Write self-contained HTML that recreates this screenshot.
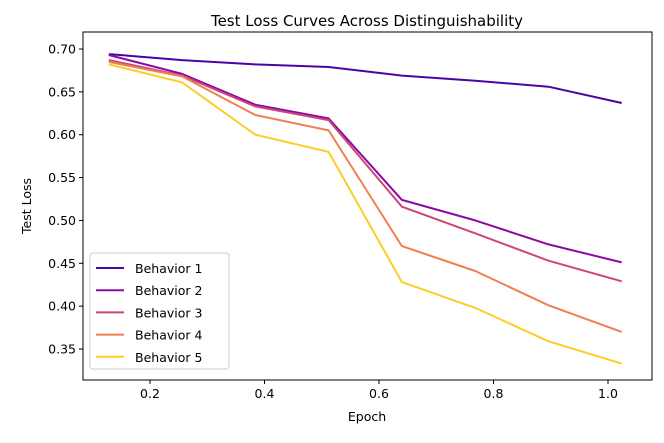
<!DOCTYPE html>
<html><head><meta charset="utf-8"><style>
body{margin:0;background:#fff;}
svg{display:block;font-family:"DejaVu Sans","Liberation Sans",sans-serif;}
</style></head><body>
<svg id="chart" width="664" height="443" viewBox="0 0 664 443">
<text x="367" y="26" font-size="15" text-anchor="middle" fill="#000">Test Loss Curves Across Distinguishability</text>
<g id="axes"></g>
<g id="lines"></g>
<g id="legend"></g>
<text x="367" y="421" font-size="12.5" text-anchor="middle">Epoch</text>
<text x="0" y="0" font-size="12.5" text-anchor="middle" transform="translate(31,206) rotate(-90)">Test Loss</text>
</svg>
<script>
const epochs=[0.128,0.256,0.384,0.512,0.64,0.768,0.896,1.024];
const seriesNames=["Behavior 1","Behavior 2","Behavior 3","Behavior 4","Behavior 5"];
const b1=[0.694,0.687,0.682,0.679,0.669,0.663,0.656,0.637];
const b2=[0.693,0.671,0.635,0.619,0.524,0.500,0.472,0.451];
const b3=[0.687,0.669,0.633,0.617,0.516,0.485,0.453,0.429];
const b4=[0.685,0.668,0.623,0.605,0.470,0.441,0.401,0.370];
const b5=[0.682,0.661,0.600,0.580,0.428,0.398,0.359,0.333];
const xTicks=[0.2,0.4,0.6,0.8,1.0];
const xTickLabels=["0.2","0.4","0.6","0.8","1.0"];
const yTicks=[0.35,0.40,0.45,0.50,0.55,0.60,0.65,0.70];
const yTickLabels=["0.35","0.40","0.45","0.50","0.55","0.60","0.65","0.70"];
const colors=["#4b03a1","#8b0aa5","#cc4778","#f07f4f","#fccd25"];
const series=[b1,b2,b3,b4,b5];
const L=83,R=652,T=32,B=380;
const xs=v=>150+(v-0.2)*(608-150)/0.8;
const ys=v=>49+(0.70-v)*(349-49)/0.35;
const NS="http://www.w3.org/2000/svg";
function mk(tag,attrs,parent){const e=document.createElementNS(NS,tag);for(const k in attrs)e.setAttribute(k,attrs[k]);parent.appendChild(e);return e;}
const axes=document.getElementById('axes');
const frame=mk('rect',{x:L,y:T,width:R-L,height:B-T,fill:'none',stroke:'#000','stroke-width':1},axes);


xTicks.forEach((t,i)=>{const x=xs(t);
const tk=mk('line',{x1:x,x2:x,y1:B,y2:B+4,stroke:'#000'},axes);


const tx=mk('text',{x:x,y:B+18,'font-size':12.5,'text-anchor':'middle'},axes);tx.textContent=xTickLabels[i];

});
yTicks.forEach((t,i)=>{const y=ys(t);
const tk=mk('line',{x1:L-4,x2:L,y1:y,y2:y,stroke:'#000'},axes);


const tx=mk('text',{x:L-7,y:y+4.5,'font-size':12.5,'text-anchor':'end'},axes);tx.textContent=yTickLabels[i];

});
const lines=document.getElementById('lines');
series.forEach((s,i)=>{const d=s.map((v,j)=>(j?'L':'M')+xs(epochs[j]).toFixed(1)+','+ys(v).toFixed(1)).join(' ');
const p=mk('path',{d:d,fill:'none',stroke:colors[i],'stroke-width':2,'stroke-linejoin':'round'},lines);

});
const lg=document.getElementById('legend');
const box=mk('rect',{x:90,y:253,width:139,height:116,rx:3,fill:'#fff','fill-opacity':0.8,stroke:'#ccc'},lg);


seriesNames.forEach((n,i)=>{const y=268+i*22.2;
const ln=mk('line',{x1:96,x2:124,y1:y,y2:y,stroke:colors[i],'stroke-width':2},lg);


const t=mk('text',{x:135,y:y+5,'font-size':12.5},lg);t.textContent=n;

});
</script>
</body></html>
